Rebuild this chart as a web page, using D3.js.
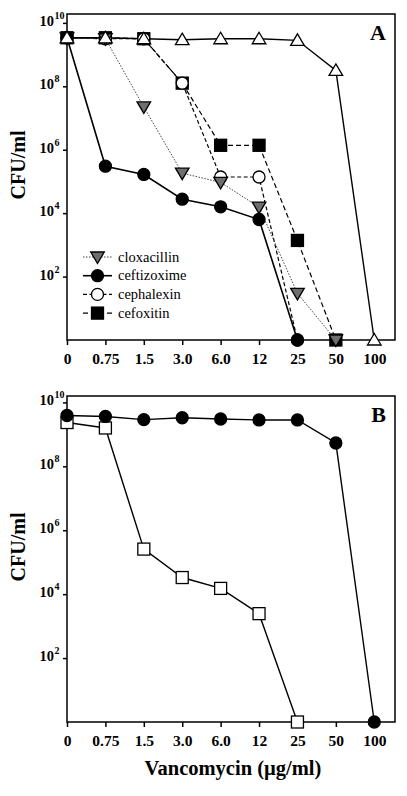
<!DOCTYPE html>
<html><head><meta charset="utf-8">
<script src="https://cdn.jsdelivr.net/npm/d3@7"></script>
<style>body{margin:0;background:#fff}svg{display:block}</style>
</head><body>
<script>
// ---- data (log10 CFU/ml) ----
const categories = ["0","0.75","1.5","3.0","6.0","12","25","50","100"];
const yTickExps = [2,4,6,8,10];
// Panel A
const vancoAlone   = [9.53, 9.53, 9.50, 9.47, 9.50, 9.50, 9.45, 8.50, 0];
const cloxacillin  = [9.53, 9.50, 7.35, 5.26, 4.97, 4.19, 1.47, 0, null];
const ceftizoxime  = [9.53, 5.48, 5.22, 4.44, 4.20, 3.80, 0, null, null];
const cephalexin   = [9.53, 9.50, 9.50, 8.10, 5.14, 5.14, 0, null, null];
const cefoxitin    = [9.53, 9.53, 9.50, 8.10, 6.14, 6.14, 3.14, 0, null];
// Panel B
const bCircles = [9.59, 9.56, 9.46, 9.52, 9.48, 9.45, 9.45, 8.73, 0];
const bSquares = [9.37, 9.20, 5.41, 4.52, 4.18, 3.39, 0, null, null];

const W = 407, H = 796;
const svg = d3.select("body").append("svg").attr("width", W).attr("height", H);
const serif = "'Liberation Serif','Times New Roman',serif";

function panel(top, bottom, topExp, letter, series, legend) {
  const x = d3.scaleLinear().domain([0, 8.54]).range([67, 395]);
  const y = d3.scaleLinear().domain([0, topExp]).range([bottom, top]);
  const g = svg.append("g");
  // frame
  g.append("rect").attr("x", x(0)).attr("y", top).attr("width", x(8.54) - x(0))
    .attr("height", bottom - top).attr("fill", "none").attr("stroke", "#000").attr("stroke-width", 1.5);
  // x axis
  const xa = g.append("g").attr("transform", `translate(0,${bottom})`)
    .call(d3.axisBottom(x).tickValues(d3.range(categories.length)).tickFormat(i => categories[i]).tickSize(5).tickSizeOuter(0));
  xa.select(".domain").remove();
  xa.selectAll("line").attr("stroke-width", 1.5);
  xa.selectAll("text").attr("font-family", serif).attr("font-weight", "bold").attr("font-size", 15.5).attr("dy", "0").attr("y", 24).attr("fill", "#000");
  // y axis
  const ya = g.append("g").attr("transform", `translate(${x(0)},0)`)
    .call(d3.axisLeft(y).tickValues(yTickExps).tickFormat("").tickSize(4).tickSizeOuter(0));
  ya.select(".domain").remove();
  ya.selectAll("line").attr("stroke-width", 1.5);
  yTickExps.forEach(e => {
    g.append("text").attr("x", 54).attr("y", y(e) + 3).attr("text-anchor", "end")
      .attr("font-family", serif).attr("font-weight", "bold").attr("font-size", 14.5).text("10");
    g.append("text").attr("x", 54.5).attr("y", y(e) - 4).attr("font-family", serif)
      .attr("font-weight", "bold").attr("font-size", 10).text(e);
  });
  // y title
  g.append("text").attr("transform", `translate(25,${(top + bottom) / 2 - 12}) rotate(-90)`)
    .attr("text-anchor", "middle").attr("font-family", serif).attr("font-weight", "bold")
    .attr("font-size", 20).text("CFU/ml");
  // panel letter
  g.append("text").attr("x", 386).attr("y", top + 26).attr("text-anchor", "end")
    .attr("font-family", serif).attr("font-weight", "bold").attr("font-size", 22).text(letter);

  series.forEach(s => {
    const pts = s.values.map((v, i) => [i, v]).filter(d => d[1] !== null);
    const line = d3.line().x(d => x(d[0])).y(d => y(d[1]));
    g.append("path").attr("d", line(pts)).attr("fill", "none").attr("stroke", s.lineColor || "#000")
      .attr("stroke-width", s.lw).attr("stroke-dasharray", s.dash || null);
  });
  series.forEach(s => {
    const pts = s.values.map((v, i) => [i, v]).filter(d => d[1] !== null);
    drawMarkers(g, pts.map(d => [x(d[0]), y(d[1])]), s);
  });

  if (legend) {
    legend.forEach((s, k) => {
      const ly = 257 + k * 18.7;
      g.append("line").attr("x1", 83).attr("x2", 112).attr("y1", ly).attr("y2", ly)
        .attr("stroke", s.lineColor || "#000").attr("stroke-width", s.lw).attr("stroke-dasharray", s.dash || null);
      drawMarkers(g, [[97.5, ly]], s);
      g.append("text").attr("x", 118).attr("y", ly + 4.5).attr("font-family", serif)
        .attr("font-size", 14.5).text(s.name);
    });
  }
}

function drawMarkers(g, pts, s) {
  const sel = g.selectAll(null).data(pts).enter();
  if (s.shape === "circle") {
    sel.append("circle").attr("cx", d => d[0]).attr("cy", d => d[1]).attr("r", 6)
      .attr("fill", s.fill).attr("stroke", "#000").attr("stroke-width", 1.3);
  } else if (s.shape === "square") {
    sel.append("rect").attr("x", d => d[0] - 6).attr("y", d => d[1] - 6).attr("width", 12).attr("height", 12)
      .attr("fill", s.fill).attr("stroke", "#000").attr("stroke-width", 1.3);
  } else if (s.shape === "tri") {
    sel.append("path").attr("d", d => `M${d[0]},${d[1] - 6.5}L${d[0] + 6.8},${d[1] + 5}L${d[0] - 6.8},${d[1] + 5}Z`)
      .attr("fill", s.fill).attr("stroke", "#000").attr("stroke-width", 1.3);
  } else if (s.shape === "triDown") {
    sel.append("path").attr("d", d => `M${d[0]},${d[1] + 6.5}L${d[0] + 6.8},${d[1] - 5}L${d[0] - 6.8},${d[1] - 5}Z`)
      .attr("fill", s.fill).attr("stroke", "#000").attr("stroke-width", 1.3);
  }
}

const sClox = {name: "cloxacillin", values: cloxacillin, shape: "triDown", fill: "#6e6e6e", lw: 1, dash: "1.5,1.5", lineColor: "#444"};
const sCeft = {name: "ceftizoxime", values: ceftizoxime, shape: "circle", fill: "#000", lw: 1.6};
const sCeph = {name: "cephalexin", values: cephalexin, shape: "circle", fill: "#fff", lw: 1.2, dash: "4,2.5"};
const sCefo = {name: "cefoxitin", values: cefoxitin, shape: "square", fill: "#000", lw: 1.2, dash: "5,3"};
const sVanc = {name: "vancomycin", values: vancoAlone, shape: "tri", fill: "#fff", lw: 1.4};

panel(14, 340, 10.28, "A", [sCefo, sCeph, sClox, sCeft, sVanc], [sClox, sCeft, sCeph, sCefo]);
panel(396, 722, 10.2, "B", [
  {values: bSquares, shape: "square", fill: "#fff", lw: 1.4},
  {values: bCircles, shape: "circle", fill: "#000", lw: 1.4}
], null);

svg.append("text").attr("x", 233).attr("y", 775).attr("text-anchor", "middle")
  .attr("font-family", serif).attr("font-weight", "bold").attr("font-size", 20.5)
  .text("Vancomycin (\u00b5g/ml)");
</script>
</body></html>
